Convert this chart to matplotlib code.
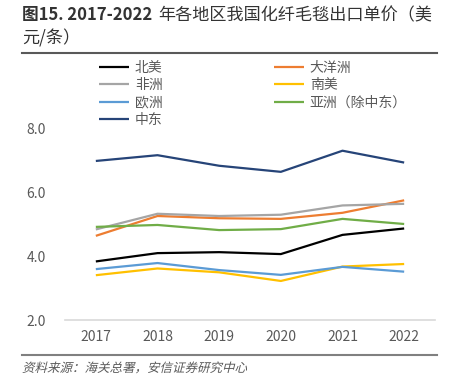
import numpy as np
import matplotlib
matplotlib.use("Agg")
import matplotlib.pyplot as plt
from matplotlib.lines import Line2D
from matplotlib.textpath import TextPath
from matplotlib.patches import PathPatch
from matplotlib.font_manager import FontProperties
from matplotlib.transforms import Affine2D

plt.rcParams['font.family'] = ['Noto Sans CJK SC', 'DejaVu Sans']

years = ["2017", "2018", "2019", "2020", "2021", "2022"]

north_america = [3.83, 4.09, 4.12, 4.06, 4.66, 4.86]
oceania = [4.63, 5.25, 5.18, 5.16, 5.35, 5.74]
africa = [4.83, 5.32, 5.25, 5.29, 5.58, 5.63]
south_america = [3.40, 3.61, 3.49, 3.22, 3.67, 3.75]
europe = [3.59, 3.78, 3.56, 3.41, 3.66, 3.51]
asia_ex_me = [4.91, 4.97, 4.81, 4.84, 5.16, 5.00]
middle_east = [6.97, 7.15, 6.82, 6.63, 7.29, 6.92]

series = [
    ("北美", north_america, "#000000"),
    ("大洋洲", oceania, "#ED7D31"),
    ("非洲", africa, "#A5A5A5"),
    ("南美", south_america, "#FFC000"),
    ("欧洲", europe, "#5B9BD5"),
    ("亚洲（除中东）", asia_ex_me, "#70AD47"),
    ("中东", middle_east, "#264478"),
]

fig = plt.figure(figsize=(4.51, 3.88), dpi=100)
ax = fig.add_axes([65 / 451, 68 / 388, 370 / 451, 192 / 388])

x = np.arange(len(years))
handles = {}
for name, vals, col in series:
    ln, = ax.plot(x, vals, color=col, lw=1.6, solid_capstyle="butt")
    handles[name] = ln

ax.set_xlim(-0.5, len(years) - 0.5)
ax.set_ylim(2, 8)
ax.set_yticks([2, 4, 6, 8])
ax.set_yticklabels(["2.0", "4.0", "6.0", "8.0"])
ax.set_xticks(x)
ax.set_xticklabels(years)
ax.tick_params(axis="both", length=0, labelsize=10, colors="#595959")
ax.tick_params(axis="y", pad=14)
ax.tick_params(axis="x", pad=7)
for s in ["top", "right", "left"]:
    ax.spines[s].set_visible(False)
ax.spines["bottom"].set_color("#D9D9D9")
ax.spines["bottom"].set_linewidth(1.2)

# legend, column-major order
order = ["北美", "非洲", "欧洲", "中东", "大洋洲", "南美", "亚洲（除中东）"]
leg = fig.legend([handles[k] for k in order], order, ncol=2,
                 loc="upper left", bbox_to_anchor=(96 / 451, 1 - 58 / 388),
                 frameon=False, fontsize=10, handlelength=2.2,
                 handletextpad=0.4, columnspacing=8.0, labelspacing=0.25,
                 borderaxespad=0, borderpad=0.2)
for t in leg.get_texts():
    t.set_color("#595959")

# title: bold number part, regular chinese part
t1 = fig.text(22 / 451, 1 - 6 / 388, "图15. 2017-2022",
              ha="left", va="top", fontsize=12, fontweight="bold", color="#333333")
ax.annotate("年各地区我国化纤毛毯出口单价（美", xy=(1, 0), xycoords=t1,
            xytext=(4, 0), textcoords="offset points",
            ha="left", va="bottom", fontsize=12.3, color="#333333",
            annotation_clip=False)
fig.text(22 / 451, 1 - 29 / 388, "元/条）",
         ha="left", va="top", fontsize=12.3, color="#333333")
fig.add_artist(Line2D([22 / 451, 437 / 451], [1 - 53 / 388, 1 - 53 / 388],
                      color="#595959", lw=1.5))
fig.add_artist(Line2D([22 / 451, 437 / 451], [1 - 355 / 388, 1 - 355 / 388],
                      color="#808080", lw=1.5))

# source note, slanted like the original
fp = FontProperties(family="Noto Sans CJK SC")
tp = TextPath((0, 0), "资料来源：海关总署，安信证券研究中心", size=12.5, prop=fp)
src = PathPatch(tp, color="#595959", lw=0)
src.set_transform(Affine2D().skew_deg(14, 0).translate(22, 388 - 372))
fig.add_artist(src)

fig.savefig("out.png", dpi=100)
